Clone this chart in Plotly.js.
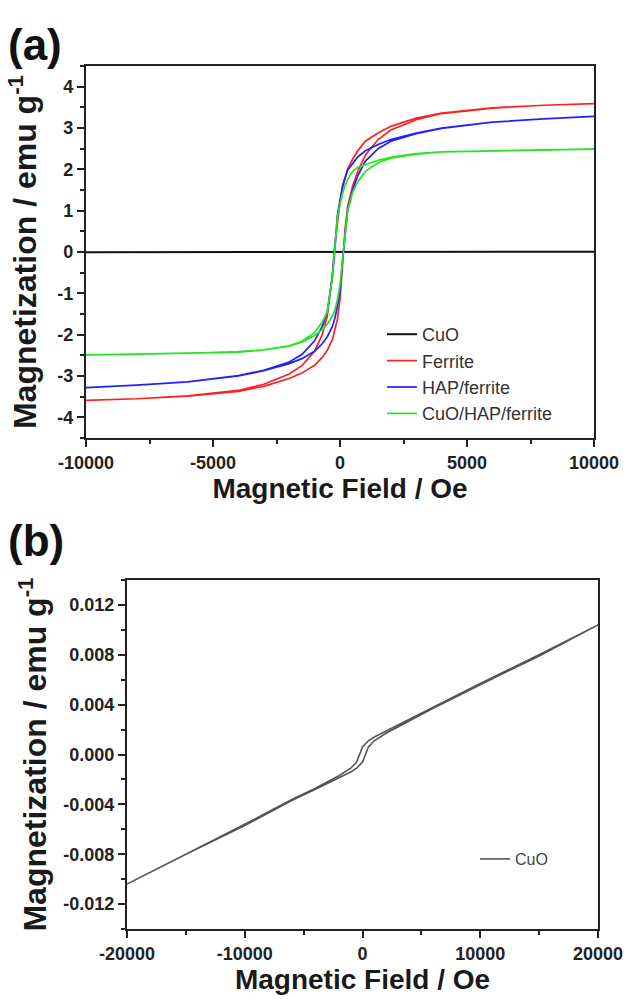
<!DOCTYPE html>
<html><head><meta charset="utf-8">
<script src="https://cdn.plot.ly/plotly-3.0.1.min.js"></script>
<style>html,body{margin:0;padding:0;background:#fff}#chart{width:628px;height:999px}</style>
</head><body><div id="chart"></div>
<script>
// ---- Panel (a): field grid (Oe), shared by both branches ----
const fieldA = [-10000, -8000, -6000, -4000, -3000, -2000, -1500, -1000, -700, -500, -300, -200, -100, 0, 100, 200, 300, 500, 700, 1000, 1500, 2000, 3000, 4000, 6000, 8000, 10000];

// Ferrite: ascending-field branch (lower) and descending-field branch (upper)
const ferriteLow = [-3.59, -3.55, -3.49, -3.37, -3.25, -3.06, -2.93, -2.74, -2.55, -2.38, -2.12, -1.90, -1.62, -1.15, -0.25, 0.55, 1.10, 1.60, 1.95, 2.35, 2.72, 2.95, 3.20, 3.35, 3.48, 3.55, 3.59];
const ferriteUp  = [-3.59, -3.55, -3.48, -3.35, -3.20, -2.95, -2.75, -2.40, -2.00, -1.55, -0.55, 0.20, 0.75, 1.20, 1.55, 1.80, 2.00, 2.25, 2.45, 2.68, 2.88, 3.04, 3.24, 3.36, 3.49, 3.55, 3.59];

// HAP/ferrite
const hapLow = [-3.28, -3.22, -3.14, -3.00, -2.87, -2.70, -2.58, -2.40, -2.22, -2.05, -1.80, -1.60, -1.30, -0.95, -0.20, 0.50, 1.00, 1.50, 1.85, 2.20, 2.50, 2.68, 2.86, 2.99, 3.14, 3.22, 3.28];
const hapUp  = [-3.28, -3.22, -3.14, -2.99, -2.86, -2.66, -2.48, -2.15, -1.80, -1.45, -0.60, 0.10, 0.90, 1.25, 1.60, 1.80, 1.98, 2.15, 2.30, 2.45, 2.60, 2.72, 2.88, 3.00, 3.14, 3.22, 3.28];

// CuO/HAP/ferrite
const compLow = [-2.49, -2.47, -2.45, -2.41, -2.37, -2.28, -2.18, -2.02, -1.88, -1.75, -1.55, -1.40, -1.15, -0.80, -0.15, 0.50, 1.00, 1.45, 1.70, 1.95, 2.16, 2.27, 2.37, 2.42, 2.45, 2.47, 2.49];
const compUp  = [-2.49, -2.47, -2.45, -2.42, -2.37, -2.27, -2.16, -1.95, -1.70, -1.45, -0.60, 0.10, 0.85, 1.15, 1.42, 1.60, 1.75, 1.95, 2.05, 2.12, 2.22, 2.29, 2.38, 2.42, 2.45, 2.47, 2.49];

// ---- Panel (b): CuO loop ----
const cuoField = [-20000, -15000, -10000, -6000, -4000, -2000, -1000, -500, 0, 500, 1000, 2000, 4000, 6000, 10000, 15000, 20000];
const cuoLow = [-0.0104, -0.0080, -0.0057, -0.0037, -0.0028, -0.0019, -0.0014, -0.0011, -0.0006, 0.0006, 0.0011, 0.0017, 0.0027, 0.0037, 0.0056, 0.0079, 0.0104];
const cuoUp  = [-0.0104, -0.0080, -0.0056, -0.0036, -0.0027, -0.0017, -0.0011, -0.0006, 0.0006, 0.0011, 0.0014, 0.0019, 0.0028, 0.0038, 0.0057, 0.0080, 0.0104];

// ---- Tick labels ----
const xTicksA = [-10000, -5000, 0, 5000, 10000];
const xLabelsA = ['-10000', '-5000', '0', '5000', '10000'];
const yTicksA = [-4, -3, -2, -1, 0, 1, 2, 3, 4];
const yLabelsA = ['-4', '-3', '-2', '-1', '0', '1', '2', '3', '4'];
const xTicksB = [-20000, -10000, 0, 10000, 20000];
const xLabelsB = ['-20000', '-10000', '0', '10000', '20000'];
const yTicksB = [-0.012, -0.008, -0.004, 0, 0.004, 0.008, 0.012];
const yLabelsB = ['-0.012', '-0.008', '-0.004', '0.000', '0.004', '0.008', '0.012'];

const names = ['CuO', 'Ferrite', 'HAP/ferrite', 'CuO/HAP/ferrite'];
const colors = ['#111111', '#ff2020', '#2020ff', '#22e622'];

function loopX(f) { return f.concat(f.slice().reverse()); }
function loopY(low, up) { return low.concat(up.slice().reverse()); }

const W = 628, H = 999;
const px = (a, b) => [a / W, b / W];
const py = (top, bot) => [1 - bot / H, 1 - top / H];

const traces = [
  {x: loopX(cuoField), y: loopY(cuoLow, cuoUp), name: names[0], xaxis: 'x', yaxis: 'y', mode: 'lines', line: {color: colors[0], width: 2}, legend: 'legend'},
  {x: loopX(fieldA), y: loopY(ferriteLow, ferriteUp), name: names[1], xaxis: 'x', yaxis: 'y', mode: 'lines', line: {color: colors[1], width: 1.7}, legend: 'legend'},
  {x: loopX(fieldA), y: loopY(hapLow, hapUp), name: names[2], xaxis: 'x', yaxis: 'y', mode: 'lines', line: {color: colors[2], width: 1.7}, legend: 'legend'},
  {x: loopX(fieldA), y: loopY(compLow, compUp), name: names[3], xaxis: 'x', yaxis: 'y', mode: 'lines', line: {color: colors[3], width: 1.7}, legend: 'legend'},
  {x: loopX(cuoField), y: loopY(cuoLow, cuoUp), name: 'CuO', xaxis: 'x2', yaxis: 'y2', mode: 'lines', line: {color: '#555555', width: 1.6}, legend: 'legend2'}
];

const FAM = 'Liberation Sans, Arial, sans-serif';
const tickFont = {family: FAM, size: 18, color: '#222', weight: 'bold'};
const xTitleFont = {family: FAM, size: 28, color: '#1a1a1a', weight: 'bold'};
const yTitleFont = {family: FAM, size: 32, color: '#1a1a1a', weight: 'bold'};
const axisCommon = {
  showline: true, linecolor: '#222', linewidth: 2.2, mirror: true,
  ticks: 'outside', ticklen: 7, tickwidth: 2, tickcolor: '#222', tickmode: 'array',
  showgrid: false, zeroline: false, tickfont: tickFont
};
const minorTicks = (d) => ({dtick: d, ticks: 'outside', ticklen: 4, tickwidth: 2, tickcolor: '#222'});

const layout = {
  width: W, height: H,
  margin: {l: 0, r: 0, t: 0, b: 0},
  paper_bgcolor: '#fff', plot_bgcolor: '#fff',
  showlegend: true,
  xaxis: Object.assign({}, axisCommon, {
    domain: px(86, 594), range: [-10000, 10000], tickvals: xTicksA, ticktext: xLabelsA,
    minor: Object.assign(minorTicks(2500), {tick0: -10000}),
    anchor: 'y', title: {text: 'Magnetic Field / Oe', font: xTitleFont, standoff: 1}
  }),
  yaxis: Object.assign({}, axisCommon, {
    domain: py(66, 438), range: [-4.5, 4.5], tickvals: yTicksA, ticktext: yLabelsA,
    minor: Object.assign(minorTicks(0.5), {tick0: 0}),
    anchor: 'x', title: {text: 'Magnetization / emu g<sup>-1</sup>', font: yTitleFont, standoff: 11}
  }),
  xaxis2: Object.assign({}, axisCommon, {
    domain: px(127, 598), range: [-20000, 20000], tickvals: xTicksB, ticktext: xLabelsB,
    minor: Object.assign(minorTicks(5000), {tick0: -20000}),
    anchor: 'y2', title: {text: 'Magnetic Field / Oe', font: xTitleFont, standoff: 4}
  }),
  yaxis2: Object.assign({}, axisCommon, {
    domain: py(580, 929), range: [-0.014, 0.014], tickvals: yTicksB, ticktext: yLabelsB,
    minor: Object.assign(minorTicks(0.002), {tick0: 0}),
    anchor: 'x2', title: {text: 'Magnetization / emu g<sup>-1</sup>', font: yTitleFont, standoff: 7}
  }),
  legend: {
    x: 382 / W, y: 1 - 316 / H, xanchor: 'left', yanchor: 'top',
    bgcolor: 'rgba(0,0,0,0)', borderwidth: 0,
    font: {family: FAM, size: 18, color: '#333'},
    tracegroupgap: 0
  },
  legend2: {
    x: 475 / W, y: 1 - 842 / H, xanchor: 'left', yanchor: 'top',
    bgcolor: 'rgba(0,0,0,0)', borderwidth: 0,
    font: {family: FAM, size: 16, color: '#444'}
  },
  annotations: [
    {text: '(a)', xref: 'paper', yref: 'paper', x: 6 / W, y: 1 - 44 / H, xanchor: 'left', yanchor: 'middle', showarrow: false,
     font: {family: FAM, size: 44, color: '#111', weight: 'bold'}},
    {text: '(b)', xref: 'paper', yref: 'paper', x: 6 / W, y: 1 - 540 / H, xanchor: 'left', yanchor: 'middle', showarrow: false,
     font: {family: FAM, size: 44, color: '#111', weight: 'bold'}}
  ]
};

Plotly.newPlot('chart', traces, layout, {staticPlot: true, displayModeBar: false});
</script>
</body></html>
